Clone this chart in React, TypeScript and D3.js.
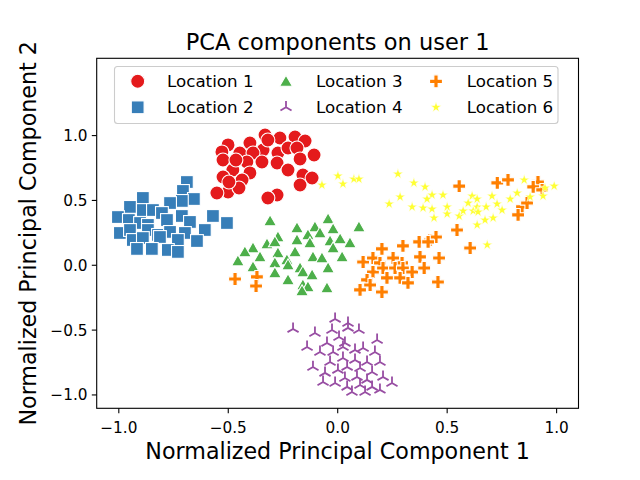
import { useEffect } from "react";
import * as d3 from "d3";

// PCA scatter: 6 locations, seaborn Set1 palette, distinct marker per location.
const locations = ["Location 1", "Location 2", "Location 3", "Location 4", "Location 5", "Location 6"];
const colors = ["#e41a1c", "#377eb8", "#4daf4a", "#984ea3", "#ff7f00", "#ffff33"];
const markers = ["circle", "square", "triangle", "tri", "plus", "star"];

const loc1: [number, number][] = [
  [-0.332, 1.005], [-0.264, 0.981], [-0.195, 0.989], [-0.149, 0.958], [-0.108, 0.85], [-0.501, 0.928],
  [-0.529, 0.874], [-0.401, 0.943], [-0.341, 0.889], [-0.447, 0.866], [-0.387, 0.866], [-0.273, 0.866],
  [-0.227, 0.904], [-0.186, 0.904], [-0.172, 0.82], [-0.524, 0.812], [-0.479, 0.735], [-0.415, 0.796],
  [-0.346, 0.796], [-0.277, 0.789], [-0.227, 0.735], [-0.401, 0.712], [-0.524, 0.681], [-0.437, 0.658],
  [-0.159, 0.696], [-0.117, 0.673], [-0.172, 0.619], [-0.501, 0.565], [-0.552, 0.557], [-0.277, 0.542],
  [-0.319, 0.519], [-0.465, 0.812], [-0.319, 0.966], [-0.451, 0.596], [-0.497, 0.642],
];
const loc2: [number, number][] = [
  [-0.689, 0.642], [-0.707, 0.573], [-0.657, 0.511], [-0.712, 0.496], [-0.89, 0.519], [-0.949, 0.45],
  [-0.766, 0.48], [-0.89, 0.426], [-0.844, 0.426], [-1.004, 0.372], [-0.954, 0.349], [-0.803, 0.403],
  [-0.712, 0.38], [-0.57, 0.38], [-0.78, 0.349], [-0.903, 0.326], [-0.867, 0.311], [-0.675, 0.334],
  [-0.506, 0.326], [-0.995, 0.249], [-0.949, 0.272], [-0.867, 0.272], [-0.821, 0.234], [-0.766, 0.257],
  [-0.698, 0.249], [-0.607, 0.272], [-0.936, 0.195], [-0.89, 0.21], [-0.812, 0.218], [-0.73, 0.195],
  [-0.643, 0.187], [-0.917, 0.126], [-0.849, 0.126], [-0.776, 0.118], [-0.73, 0.103],
];
const loc3: [number, number][] = [
  [-0.309, 0.342], [-0.044, 0.357], [0.097, 0.295], [-0.186, 0.288], [-0.104, 0.295], [-0.021, 0.28],
  [-0.273, 0.218], [-0.136, 0.234], [-0.081, 0.249], [-0.186, 0.195], [-0.127, 0.172], [-0.035, 0.187],
  [0.011, 0.203], [0.056, 0.172], [-0.323, 0.164], [-0.287, 0.18], [-0.387, 0.133], [-0.424, 0.103],
  [-0.195, 0.103], [-0.273, 0.095], [-0.021, 0.133], [-0.355, 0.064], [-0.113, 0.064], [-0.072, 0.056],
  [0.02, 0.064], [-0.456, 0.033], [-0.232, 0.041], [-0.287, 0.018], [-0.227, 0.002], [-0.387, -0.013],
  [-0.172, -0.021], [-0.159, -0.052], [-0.044, -0.021], [-0.287, -0.059], [-0.117, -0.075], [-0.227, -0.113],
  [-0.159, -0.152], [-0.136, -0.167], [-0.049, -0.175], [-0.163, -0.198],
];
const loc4: [number, number][] = [
  [-0.204, -0.491], [-0.012, -0.414], [0.047, -0.445], [0.047, -0.483], [0.097, -0.499], [-0.026, -0.499],
  [-0.104, -0.522], [-0.14, -0.63], [-0.049, -0.599], [0.006, -0.553], [0.033, -0.599], [0.18, -0.576],
  [-0.081, -0.669], [-0.021, -0.669], [0.079, -0.653], [0.116, -0.638], [0.17, -0.669], [0.024, -0.63],
  [-0.113, -0.785], [-0.035, -0.746], [0.024, -0.715], [0.079, -0.73], [0.134, -0.746], [0.193, -0.746],
  [-0.058, -0.83], [0.001, -0.807], [0.043, -0.784], [0.102, -0.792], [0.157, -0.823], [-0.067, -0.9],
  [0.033, -0.869], [0.088, -0.861], [0.134, -0.884], [0.207, -0.861], [0.248, -0.908], [-0.012, -0.908],
  [0.043, -0.938], [0.102, -0.923], [0.157, -0.938], [0.193, -0.961], [0.065, -0.977], [0.125, -0.977],
];
const loc5: [number, number][] = [
  [-0.469, -0.106], [-0.369, -0.09], [-0.373, -0.16], [0.202, 0.126], [0.298, 0.149], [0.372, 0.18],
  [0.422, 0.195], [0.449, 0.218], [0.545, 0.272], [0.116, 0.025], [0.161, 0.056], [0.253, 0.056],
  [0.193, 0.018], [0.294, 0.018], [0.376, 0.064], [0.463, 0.056], [0.161, -0.052], [0.207, -0.021],
  [0.262, -0.021], [0.298, -0.021], [0.34, -0.052], [0.395, -0.021], [0.134, -0.113], [0.225, -0.098],
  [0.285, -0.098], [0.321, -0.136], [0.458, -0.129], [0.102, -0.19], [0.148, -0.152], [0.202, -0.206],
  [0.555, 0.611], [0.729, 0.635], [0.778, 0.658], [0.915, 0.642], [0.893, 0.604], [0.934, 0.581],
  [0.842, 0.45], [0.865, 0.48], [0.824, 0.388], [0.605, 0.133], [0.413, 0.18],
];
const loc6: [number, number][] = [
  [0.001, 0.689], [0.024, 0.627], [0.074, 0.665], [0.097, 0.665], [-0.072, 0.619], [0.275, 0.704],
  [0.348, 0.635], [0.399, 0.604], [0.431, 0.542], [0.481, 0.542], [0.285, 0.527], [0.408, 0.511],
  [0.235, 0.473], [0.34, 0.45], [0.39, 0.442], [0.431, 0.434], [0.5, 0.45], [0.5, 0.396],
  [0.44, 0.365], [0.555, 0.38], [0.573, 0.419], [0.614, 0.534], [0.637, 0.511], [0.596, 0.48],
  [0.637, 0.45], [0.619, 0.419], [0.678, 0.45], [0.705, 0.534], [0.728, 0.473], [0.751, 0.426],
  [0.641, 0.411], [0.71, 0.365], [0.673, 0.349], [0.637, 0.311], [0.788, 0.511], [0.82, 0.557],
  [0.852, 0.658], [0.879, 0.527], [0.938, 0.534], [0.947, 0.596], [0.989, 0.611], [0.683, 0.157],
];
const series = [loc1, loc2, loc3, loc4, loc5, loc6];

const xTicks = [-1.0, -0.5, 0.0, 0.5, 1.0];
const yTicks = [-1.0, -0.5, 0.0, 0.5, 1.0];

const W = 640;
const H = 480;
const plot = { left: 96.7, right: 578.5, top: 58.3, bottom: 408.3 };
const font = "DejaVu Sans, sans-serif";
const fmt = (v: number) => v.toFixed(1).replace("-", "\u2212");

function Marker({ kind, x, y, color }: { kind: string; x: number; y: number; color: string }) {
  const edge = { stroke: "#ffffff", strokeWidth: 1.1 };
  if (kind === "circle") return <circle cx={x} cy={y} r={7} fill={color} {...edge} />;
  if (kind === "square") return <rect x={x - 6.4} y={y - 6.4} width={12.8} height={12.8} fill={color} {...edge} />;
  if (kind === "triangle") {
    const r = 7.4;
    const p = d3.range(3).map((i) => {
      const a = -Math.PI / 2 + (i * 2 * Math.PI) / 3;
      return [x + r * Math.cos(a), y + 1.2 + r * Math.sin(a)];
    });
    return <path d={`M${p.map((q) => q.join(",")).join("L")}Z`} fill={color} {...edge} />;
  }
  if (kind === "tri") {
    // tri_up: stem up, legs down-left / down-right
    const r = 6.4;
    const arms = [-Math.PI / 2, Math.PI / 6, (5 * Math.PI) / 6];
    return (
      <path
        d={arms.map((a) => `M${x},${y}L${x + r * Math.cos(a)},${y + r * Math.sin(a)}`).join("")}
        fill="none"
        stroke={color}
        strokeWidth={1.8}
      />
    );
  }
  if (kind === "plus") {
    const u = 2.15;
    const pts = [
      [-u, -3 * u], [u, -3 * u], [u, -u], [3 * u, -u], [3 * u, u], [u, u],
      [u, 3 * u], [-u, 3 * u], [-u, u], [-3 * u, u], [-3 * u, -u], [-u, -u],
    ];
    return <path d={`M${pts.map((q) => `${x + q[0]},${y + q[1]}`).join("L")}Z`} fill={color} {...edge} />;
  }
  // star
  const R = 5.6;
  const rIn = R * 0.382;
  const pts = d3.range(10).map((i) => {
    const a = -Math.PI / 2 + (i * Math.PI) / 5;
    const rr = i % 2 === 0 ? R : rIn;
    return `${x + rr * Math.cos(a)},${y + rr * Math.sin(a)}`;
  });
  return <path d={`M${pts.join("L")}Z`} fill={color} stroke="#ffffff" strokeWidth={0.6} />;
}

export default function App() {
  useEffect(() => {
    document.body.style.margin = "0";
  }, []);

  const x = d3.scaleLinear().domain([-1.101, 1.1]).range([plot.left, plot.right]);
  const y = d3.scaleLinear().domain([-1.103, 1.596]).range([plot.bottom, plot.top]);

  const legendCols = [137.7, 286, 436];
  const legendTextX = [167, 316, 466.7];
  const legendRows = [81.3, 107.3];

  return (
    <svg width={W} height={H} style={{ display: "block", background: "#fff" }} fontFamily={font}>
      <rect x={0} y={0} width={W} height={H} fill="#ffffff" />
      {series.map((pts, si) => (
        <g key={locations[si]}>
          {pts.map((p, i) => (
            <Marker key={i} kind={markers[si]} x={x(p[0])} y={y(p[1])} color={colors[si]} />
          ))}
        </g>
      ))}
      <rect
        x={plot.left}
        y={plot.top}
        width={plot.right - plot.left}
        height={plot.bottom - plot.top}
        fill="none"
        stroke="#000"
        strokeWidth={1.1}
      />
      {xTicks.map((t) => (
        <g key={`x${t}`}>
          <line x1={x(t)} x2={x(t)} y1={plot.bottom} y2={plot.bottom + 4.9} stroke="#000" strokeWidth={1.1} />
          <text x={x(t)} y={432.5} textAnchor="middle" fontSize={15.3} fill="#000">{fmt(t)}</text>
        </g>
      ))}
      {yTicks.map((t) => (
        <g key={`y${t}`}>
          <line x1={plot.left - 4.9} x2={plot.left} y1={y(t)} y2={y(t)} stroke="#000" strokeWidth={1.1} />
          <text x={87.5} y={y(t)} dy="0.36em" textAnchor="end" fontSize={15.3} fill="#000">{fmt(t)}</text>
        </g>
      ))}
      <text x={(plot.left + plot.right) / 2} y={459} textAnchor="middle" fontSize={22.2} fill="#000">
        Normalized Principal Component 1
      </text>
      <text
        transform={`translate(36,${(plot.top + plot.bottom) / 2}) rotate(-90)`}
        textAnchor="middle"
        fontSize={22.2}
        fill="#000"
      >
        Normalized Principal Component 2
      </text>
      <text x={(plot.left + plot.right) / 2} y={49.5} textAnchor="middle" fontSize={22.5} fill="#000">
        PCA components on user 1
      </text>
      <rect x={114.5} y={66.5} width={443.5} height={57} rx={3} fill="#ffffff" fillOpacity={0.8} stroke="#cccccc" strokeWidth={1.1} />
      {locations.map((name, i) => {
        const col = Math.floor(i / 2);
        const row = i % 2;
        return (
          <g key={name}>
            <Marker kind={markers[i]} x={legendCols[col]} y={legendRows[row]} color={colors[i]} />
            <text x={legendTextX[col]} y={legendRows[row]} dy="0.36em" fontSize={16.7} fill="#000">{name}</text>
          </g>
        );
      })}
    </svg>
  );
}
